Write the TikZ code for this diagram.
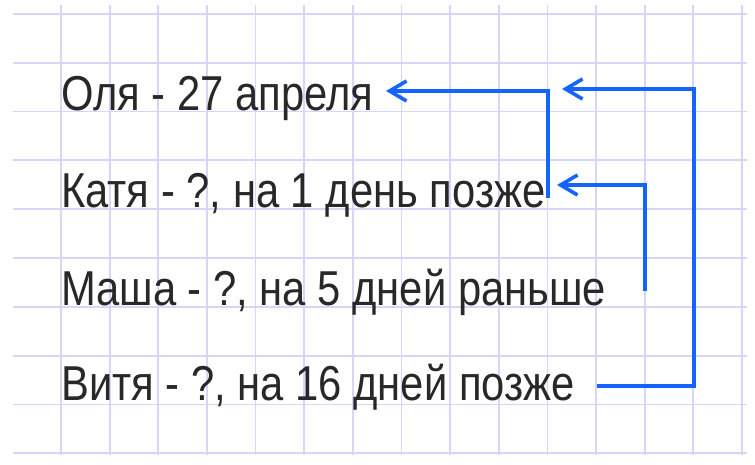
\documentclass[tikz,border=0pt]{standalone}
\usepackage{fontspec}
\setmainfont{Liberation Sans}
\newfontfamily\narrowfont[FakeStretch=0.852]{Liberation Sans}
\usetikzlibrary{arrows.meta}
\definecolor{gridc}{RGB}{214,214,248}
\definecolor{arrc}{RGB}{22,100,255}
\definecolor{txtc}{RGB}{40,40,40}
\tikzset{
  gridline/.style={draw=gridc, line width=1.8pt},
  label/.style={anchor=base west, inner sep=0pt, text=txtc, font=\narrowfont\fontsize{49}{50}\selectfont},
  conn/.style={draw=arrc, line width=3.6pt, line join=miter},
  tip/.style={-{Straight Barb[length=17pt,width=20pt,line width=3.6pt]}}
}
\begin{document}
\begin{tikzpicture}[x=1pt,y=-1pt]
\useasboundingbox (0,0) rectangle (755,465);
\fill[white] (0,0) rectangle (755,465);
% grid
\foreach \i in {0,...,9} {
  \draw[gridline] (13,{14+48.8*\i}) -- (747,{14+48.8*\i});
}
\foreach \i in {0,...,14} {
  \draw[gridline] ({61+48.64*\i},5) -- ({61+48.64*\i},455);
}
% texts
\node[label] (olya)  at (61,111) {Оля - 27 апреля};
\node[label] (katya) at (61,208) {Катя - ?, на 1 день позже};
\node[label] (masha) at (61,305) {Маша - ?, на 5 дней раньше};
\node[label] (vitya) at (61,400) {Витя - ?, на 16 дней позже};
% connector ends
\coordinate (k0) at (548,198);
\coordinate (k1) at (548,91);
\coordinate (o1) at (386,91);
\coordinate (m0) at (645,291);
\coordinate (m1) at (645,185);
\coordinate (k2) at (557,185);
\coordinate (v0) at (597,386);
\coordinate (v1) at (694,386);
\coordinate (v2) at (694,89);
\coordinate (o2) at (562,89);
% arrows
\draw[conn,tip] (k0) -- (k1) -- (o1);
\draw[conn,tip] (m0) -- (m1) -- (k2);
\draw[conn,tip] (v0) -- (v1) -- (v2) -- (o2);
\end{tikzpicture}
\end{document}
